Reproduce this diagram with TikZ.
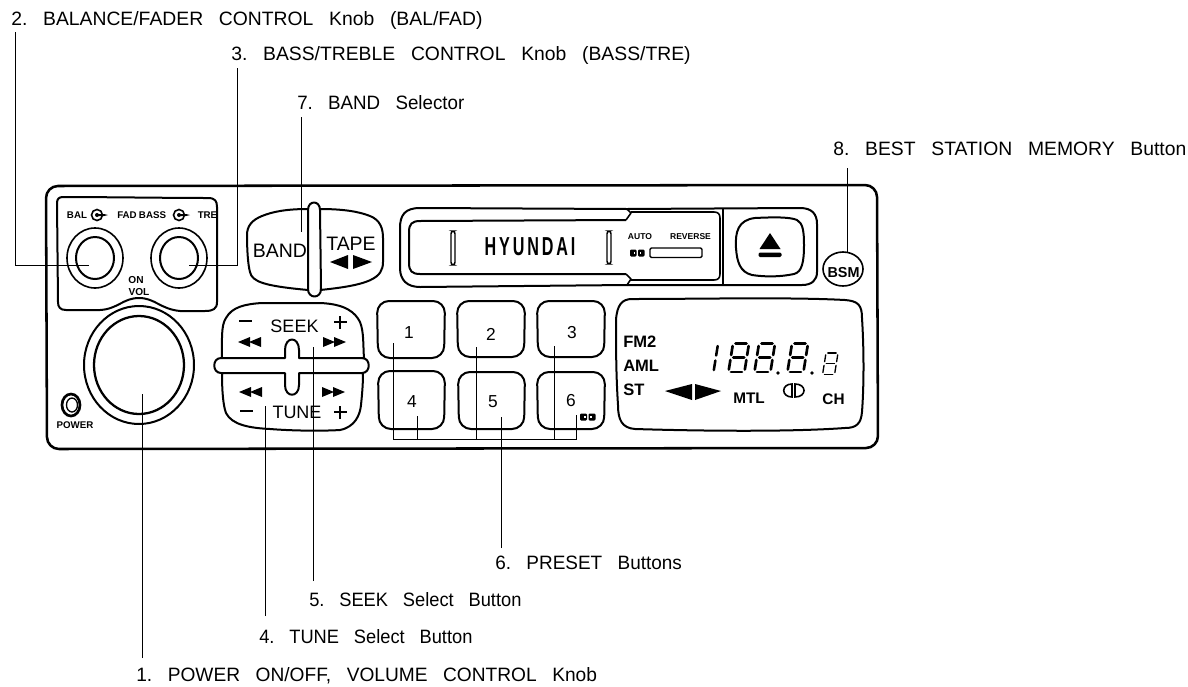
\documentclass[tikz,border=0pt]{standalone}
\usepackage{fontspec}
\setmainfont{Liberation Sans}
\newcommand{\gp}{\hspace{11.8pt}}
\newcommand{\sevenseg}[4]{%
\begin{scope}[shift={(#1,#2)},scale=#3,xslant=0.16,seg,line width=#4]
\draw (2.5,0)--(13.5,0);
\draw (0,2.5)--(0,11.5);
\draw (16,2.5)--(16,11.5);
\draw (2.5,14)--(13.5,14);
\draw (0,16.5)--(0,26);
\draw (16,16.5)--(16,26);
\draw (2.5,28.5)--(13.5,28.5);
\end{scope}}
\newcommand{\dblock}[3]{%
\fill[rounded corners=0.8pt] (#1,#2) rectangle ++(#3,7);
\fill[rounded corners=0.8pt] (#1+#3+1.5,#2) rectangle ++(#3,7);
\fill[white] (#1+#3-3,#2+2.5) rectangle ++(1.5,2);
\fill[white] (#1+#3+3,#2+2.5) rectangle ++(1.5,2);}
\tikzset{
 lbl/.style={anchor=west,inner sep=0pt,font=\fontsize{14.5pt}{16pt}\selectfont},
 tinyb/.style={inner sep=0pt,font=\fontsize{7.3pt}{8pt}\selectfont\bfseries},
 dispb/.style={inner sep=0pt,font=\fontsize{12.4pt}{14pt}\selectfont\bfseries},
 btn/.style={inner sep=0pt,font=\fontsize{13.5pt}{15pt}\selectfont},
 num/.style={inner sep=0pt,font=\fontsize{13pt}{15pt}\selectfont},
 lead/.style={draw=black,line width=0.75pt},
 thick1/.style={draw=black,line width=1.6pt,line join=round},
 thin1/.style={draw=black,line width=1.2pt,line join=round},
 seg/.style={line width=1.9pt,line cap=round},
}
\begin{document}
\begin{tikzpicture}[x=0.75pt,y=-0.75pt]
\useasboundingbox (0,0) rectangle (1188,686);
\fill[white] (0,0) rectangle (1188,686);
% frame
\draw[thick1,line width=1.9pt,rounded corners=9pt] (46,186)--(877,185)--(878,448)--(47,449)--cycle;
% bal panel
\draw[thin1,line width=1.5pt] (63,197) .. controls (100,197) and (170,198) .. (208,198) .. controls (215,198) and (217,201) .. (217,207) -- (217,302) .. controls (217,309) and (213,311) .. (205,311) -- (180,311) .. controls (160,309) and (155,298) .. (139,298) .. controls (123,298) and (118,309) .. (100,310) -- (66,310) .. controls (60,310) and (58,307) .. (58,302) -- (57,203) .. controls (57,199) and (59,197) .. (63,197) -- cycle;
\node[tinyb] (bal) at (77,215) {BAL};
\node[tinyb] (fad) at (127,215) {FAD};
\node[tinyb] (bass) at (152.5,215) {BASS};
\node[tinyb] (tre) at (207.5,215) {TRE};
\foreach \c in {97,179}{
 \draw[line width=1.2pt] (\c,215) circle [radius=5.5];
 \fill (\c,215) circle [radius=2];
 \fill (\c,214) -- (\c+7,214) -- (\c+11,215) -- (\c+7,216) -- (\c,216) -- cycle;
}
\foreach \c in {95,179}{
 \draw[thin1] (\c,258) circle [x radius=28,y radius=30];
 \draw[thin1,line width=1.5pt] (\c,258) circle [x radius=19,y radius=21];
}
\node[inner sep=0pt,font=\fontsize{7.6pt}{8pt}\selectfont\bfseries] (on) at (136,280) {ON};
\node[inner sep=0pt,font=\fontsize{7.6pt}{8pt}\selectfont\bfseries] (vol) at (139,292) {VOL};
% volume
\draw[thin1,line width=1.5pt] (139,365) circle [x radius=55,y radius=59];
\draw[thin1,line width=1.7pt] (139,365) circle [x radius=45,y radius=49];
% power
\draw[line width=2pt] (71,405) circle [x radius=9,y radius=11];
\draw[line width=1pt] (72,405) circle [x radius=5.5,y radius=7];
\node[tinyb] (power) at (75,425) {POWER};
% band / tape
\draw[thin1,line width=1.5pt] (308,209) .. controls (285,209) and (272,212) .. (262,216) .. controls (252,220) and (247,226) .. (247,235) .. controls (247,250) and (248,265) .. (250,272) .. controls (252,282) and (265,286) .. (308,290);
\draw[thin1,line width=1.5pt] (320,209) .. controls (345,209) and (360,212) .. (370,216) .. controls (380,220) and (383,228) .. (383,238) -- (383,262) .. controls (383,278) and (370,285) .. (320,290);
\draw[thin1,line width=1.5pt] (308,210) .. controls (308,200) and (320,200) .. (320,210) -- (321,289) .. controls (321,299) and (308,299) .. (308,289) -- cycle;
\node[btn,font=\fontsize{14.6pt}{16pt}\selectfont] (bandt) at (280,251) {BAND};
\node[btn,font=\fontsize{14.6pt}{16pt}\selectfont] (tapet) at (351,244) {TAPE};
\fill (330,262)--(348,255)--(348,269)--cycle;
\fill (353,255)--(353,269)--(372,262)--cycle;
% seek tune
\draw[thin1,line width=1.5pt] (222,358) .. controls (222,340) and (221,325) .. (226,318) .. controls (232,307) and (245,304) .. (262,303) -- (320,303) .. controls (345,304) and (355,312) .. (360,322) .. controls (364,332) and (363,345) .. (364,358) -- (299,358) -- (299,350) .. controls (299,336) and (285,336) .. (285,350) -- (285,358) -- cycle;
\draw[thin1,line width=1.5pt] (222,373) .. controls (222,390) and (223,405) .. (226,413) .. controls (232,425) and (250,428) .. (270,429) .. controls (295,431) and (325,431) .. (340,430) .. controls (355,427) and (360,415) .. (361,405) .. controls (362,395) and (363,385) .. (363,373) -- (299,373) -- (299,385) .. controls (299,398) and (285,398) .. (285,385) -- (285,373) -- cycle;
\draw[thin1,line width=1.5pt] (222,358) -- (221,358) .. controls (212,358) and (212,373) .. (221,373) -- (222,373);
\draw[thin1,line width=1.5pt] (364,358) -- (362,358) .. controls (371,358) and (371,373) .. (362,373) -- (363,373);
\node[btn] (seekt) at (294.5,326) {SEEK};
\node[btn] (tunet) at (297,412) {TUNE};
\foreach \xx/\yy in {239/321,240/411}{\fill (\xx,\yy-1) rectangle (\xx+13,\yy+1);}
\foreach \xx/\yy in {340/322,340/412}{\fill (\xx-6.5,\yy-1) rectangle (\xx+6.5,\yy+1);\fill (\xx-1,\yy-6.5) rectangle (\xx+1,\yy+6.5);}
\foreach \xx/\yy in {238/342,239/392}{\fill (\xx,\yy)--(\xx+12,\yy-5)--(\xx+12,\yy+5)--cycle;\fill (\xx+11,\yy)--(\xx+23,\yy-5)--(\xx+23,\yy+5)--cycle;}
\foreach \xx/\yy in {323/342,322/392}{\fill (\xx,\yy-5)--(\xx,\yy+5)--(\xx+12,\yy)--cycle;\fill (\xx+11,\yy-5)--(\xx+11,\yy+5)--(\xx+23,\yy)--cycle;}
% tape window
\draw[thin1,line width=1.5pt] (627,209) -- (420,208) .. controls (405,208) and (400,215) .. (400,228) -- (400,268) .. controls (400,280) and (407,287) .. (420,287) -- (627,285);
\draw[thin1,line width=1.5pt] (626,220) -- (420,221) .. controls (412,221) and (409,224) .. (409,232) -- (409,263) .. controls (409,271) and (412,274) .. (420,274) -- (626,274);
\draw[thin1] (627,209) -- (631,213) -- (626,220);
\draw[thin1] (626,274) -- (631,279) -- (627,285);
\draw[thin1] (631,212) -- (714,212) .. controls (718,212) and (720,214) .. (720,218) -- (720,274) .. controls (720,278) and (718,280) .. (714,280) -- (631,280);
\draw[thin1,line width=1.5pt] (627,209) -- (800,208) .. controls (812,208) and (817,214) .. (817,224) -- (817,272) .. controls (817,280) and (812,285) .. (802,285) -- (627,285);
\draw[thin1] (723,209) -- (723,285);
\draw[line width=1.1pt,rounded corners=2pt] (451,231) rectangle (455,265);
\draw[line width=1.1pt,rounded corners=2pt] (607,231) rectangle (611,264);
\node[inner sep=0pt] (hyundai) at (530,247) {\scalebox{0.62}[1]{\fontsize{19.5pt}{20pt}\selectfont\bfseries\addfontfeature{LetterSpace=18}HYUNDAI}};
\node[inner sep=0pt,font=\fontsize{6.4pt}{7pt}\selectfont\bfseries] (autot) at (640,237) {AUTO};
\node[inner sep=0pt,font=\fontsize{6.4pt}{7pt}\selectfont\bfseries] (revt) at (690.5,237) {REVERSE};
\dblock{630}{249.5}{6.5}
\draw[line width=1pt,rounded corners=1pt] (650,248) rectangle (702,257.5);
% eject
\draw[thin1,line width=1.5pt] (755,218) .. controls (775,217) and (790,217) .. (797,220) .. controls (803,223) and (804,232) .. (804,245) .. controls (804,262) and (802,272) .. (794,274) .. controls (780,277) and (765,277) .. (752,275) .. controls (740,272) and (737,262) .. (736,248) .. controls (735,232) and (738,220) .. (755,218) -- cycle;
\fill (770,233)--(759.5,249)--(780.5,249)--cycle;
\fill[rounded corners=1pt] (758.5,252.5) rectangle (781.5,257);
% BSM
\draw[thin1,fill=white] (843,269) circle [x radius=20,y radius=17];
\node[inner sep=0pt,font=\fontsize{10.8pt}{11pt}\selectfont\bfseries] (bsm) at (843.5,273) {BSM};
% presets
\foreach \n/\xa/\ya/\xb/\yb/\tx/\ty/\tn in {p1/377/301/445/358/409/333/1,p2/457/301/525/357/491/334/2,p3/537/301/605/357/572/333/3,p4/378/371/445/429/412/402/4,p5/458/372/525/429/493/402/5,p6/537/372/605/429/571/401/6}{
 \draw[thin1,line width=1.5pt,rounded corners=9pt] (\xa,\ya) -- (\xb,\ya) -- (\xb-1,\yb) -- (\xa+1,\yb) -- cycle;
 \node[num] (\n) at (\tx,\ty) {\tn};
}
\dblock{580}{413.5}{7}
% display
\draw[thin1,line width=1.5pt] (632,299) .. controls (700,299) and (790,297) .. (845,300) .. controls (858,301) and (862,305) .. (862,318) .. controls (864,350) and (864,385) .. (862,412) .. controls (861,424) and (856,428) .. (845,428) .. controls (790,432) and (700,431) .. (635,429) .. controls (622,428) and (618,420) .. (618,405) .. controls (616,375) and (616,345) .. (616,320) .. controls (617,305) and (622,299) .. (632,299) -- cycle;
\node[dispb,anchor=west] (fm) at (623,342) {FM2};
\node[dispb,anchor=west] (aml) at (623,366) {AML};
\node[dispb,anchor=west] (st) at (623,390) {ST};
\node[dispb,font=\fontsize{11.5pt}{13pt}\selectfont\bfseries] (mtl) at (749,398) {MTL};
\node[dispb,font=\fontsize{11.5pt}{13pt}\selectfont\bfseries] (ch) at (833.5,399) {CH};
\fill (665,391)--(692,384)--(692,400)--cycle;
\fill (695,384)--(695,400)--(721,391)--cycle;
\draw[line width=1.2pt] (792,384) .. controls (781,384) and (781,397) .. (792,397) -- cycle;
\draw[line width=1.2pt] (795,384) .. controls (807,384) and (807,397) .. (795,397) -- cycle;
% digits
\begin{scope}[shift={(718,344)},xslant=0.16,seg]
\draw (0,2)--(0,11.5); \draw (0,16.5)--(0,26);
\end{scope}
\sevenseg{733}{343.5}{1}{2pt}
\sevenseg{759}{343.5}{1}{2pt}
\sevenseg{792}{343.5}{1}{2pt}
\sevenseg{826}{353}{0.75}{1pt}
\fill (778,373) circle [radius=1.8];
\fill (812,373) circle [radius=1.8];
% leaders
\node[lbl] (l2) at (11,20) {2.\gp BALANCE/FADER\gp CONTROL\gp Knob\gp (BAL/FAD)};
\node[lbl] (l3) at (231,55) {3.\gp BASS/TREBLE\gp CONTROL\gp Knob\gp (BASS/TRE)};
\node[lbl] (l7) at (297,103) {\scalebox{0.97}[1]{7.\gp BAND\gp Selector}};
\node[lbl] (l8) at (833,149) {8.\gp BEST\gp STATION\gp MEMORY\gp Button};
\node[lbl] (l6) at (495,563) {\scalebox{0.98}[1]{6.\gp PRESET\gp Buttons}};
\node[lbl] (l5) at (309,600) {\scalebox{0.945}[1]{5.\gp SEEK\gp Select\gp Button}};
\node[lbl] (l4) at (259,637) {\scalebox{0.945}[1]{4.\gp TUNE\gp Select\gp Button}};
\node[lbl] (l1) at (136,676) {\scalebox{0.99}[1]{1.\gp POWER\gp ON/OFF,\gp VOLUME\gp CONTROL\gp Knob}};
\coordinate (a2) at (15,32); \coordinate (b2) at (15,265); \coordinate (c2) at (89,265);
\coordinate (a3) at (237,68); \coordinate (b3) at (237,265); \coordinate (c3) at (189,265);
\coordinate (a7) at (301,117); \coordinate (c7) at (301,232);
\coordinate (a8) at (847,168); \coordinate (c8) at (847,252);
\coordinate (a1) at (142,658); \coordinate (c1) at (142,394);
\coordinate (a4) at (265,616); \coordinate (c4) at (265,406);
\coordinate (a5) at (313,581); \coordinate (c5) at (313,347);
\coordinate (a6) at (501,548); \coordinate (c6) at (501,417);
\coordinate (s1) at (393,343); \coordinate (b1) at (393,439);
\coordinate (s4) at (417,416); \coordinate (b4) at (417,439);
\coordinate (s2) at (476,347); \coordinate (bb2) at (476,439);
\coordinate (s3) at (554,346); \coordinate (bb3) at (554,439);
\coordinate (s6) at (576,415); \coordinate (b6) at (576,439);
\draw[lead] (a2)--(b2)--(c2);
\draw[lead] (a3)--(b3)--(c3);
\draw[lead] (a7)--(c7);
\draw[lead] (a8)--(c8);
\draw[lead] (a1)--(c1);
\draw[lead] (a4)--(c4);
\draw[lead] (a5)--(c5);
\draw[lead] (a6)--(c6);
\draw[lead] (s1)--(b1)--(b6)--(s6);
\draw[lead] (s4)--(b4);
\draw[lead] (s2)--(bb2);
\draw[lead] (s3)--(bb3);
\end{tikzpicture}
\end{document}
